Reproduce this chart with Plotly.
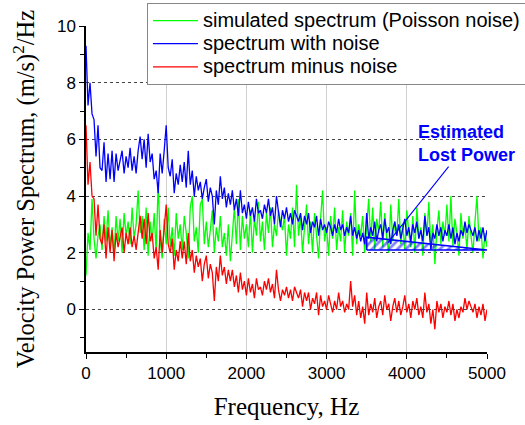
import numpy as np
import plotly.graph_objects as go

freq = list(range(0, 5001, 25))

with_noise = [
    9.3, 7.2, 8.0, 6.9, 6.7, 5.4, 6.5, 5.0, 4.9, 5.9,
    4.5, 5.5, 4.6, 5.6, 4.5, 5.5, 4.9, 5.3, 5.6, 4.8,
    5.4, 5.0, 5.7, 4.9, 5.4, 4.8, 5.6, 6.1, 5.3, 6.0,
    5.0, 6.2, 5.2, 5.5, 4.6, 4.9, 4.1, 5.5, 4.8, 5.6,
    6.5, 5.0, 4.7, 5.3, 4.1, 4.8, 4.4, 5.1, 4.5, 5.2,
    4.3, 5.6, 4.4, 4.9, 4.0, 4.7, 4.2, 4.5, 3.9, 4.3,
    4.6, 3.8, 4.3, 4.0, 3.0, 4.2, 3.7, 4.7, 3.9, 4.3,
    3.6, 4.1, 3.7, 4.2, 3.5, 3.9, 3.3, 4.2, 3.4, 3.7,
    3.2, 3.8, 3.3, 3.6, 3.1, 3.9, 3.4, 3.5, 3.2, 3.7,
    3.4, 3.9, 3.3, 3.6, 3.0, 4.0, 3.4, 2.9, 3.5, 3.2,
    3.6, 3.1, 3.4, 3.0, 3.5, 3.3, 3.1, 3.4, 2.8, 3.3,
    3.0, 3.4, 2.7, 3.1, 2.9, 3.3, 2.6, 3.2, 2.8, 3.0,
    2.7, 3.1, 2.9, 2.6, 3.0, 2.7, 3.2, 2.8, 3.0, 2.6,
    2.9, 2.7, 3.3, 2.6, 2.9, 2.5, 2.8, 2.4, 2.7, 2.3,
    3.4, 2.5, 2.9, 2.6, 3.1, 2.4, 2.8, 3.0, 2.5, 3.2,
    2.7, 2.9, 2.3, 2.8, 3.1, 2.6, 3.0, 2.5, 2.8, 3.2,
    2.6, 2.9, 2.4, 3.0, 2.7, 3.1, 2.5, 2.8, 2.4, 3.3,
    2.6, 2.9, 2.1, 2.7, 2.5, 3.0, 2.6, 2.9, 2.4, 2.8,
    2.6, 3.0, 2.5, 2.9, 2.3, 2.7, 2.4, 2.8, 2.6, 3.1,
    2.7, 3.0, 2.8, 2.6, 2.9, 2.4, 2.8, 2.5, 2.9, 2.4,
    2.8,
]

simulated = [
    1.2, 2.7, 2.1, 3.9, 2.5, 1.8, 2.6, 3.0, 2.1, 3.3,
    2.4, 3.5, 2.2, 2.9, 1.9, 3.3, 2.4, 3.2, 2.0, 3.4,
    2.6, 3.1, 2.3, 3.6, 2.5, 3.0, 4.2, 2.7, 3.3, 2.1,
    3.6, 1.9, 3.1, 2.4, 3.4, 2.0, 4.5, 2.4, 1.8, 3.2,
    2.3, 3.6, 2.2, 2.9, 1.9, 3.4, 2.5, 3.0, 2.1, 3.3,
    2.7, 1.8, 3.6, 4.0, 2.4, 2.9, 2.0, 3.7, 3.9, 2.3,
    3.1, 2.2, 2.8, 3.5, 2.0, 2.9, 2.4, 3.3, 2.2, 2.7,
    1.9, 3.0, 1.7, 2.8, 3.6, 2.3, 3.9, 2.1, 3.3, 2.5,
    3.0, 2.2, 3.5, 2.0, 3.2, 2.6, 3.8, 2.4, 3.1, 2.1,
    3.4, 2.7, 3.6, 2.2, 3.0, 2.6, 3.5, 3.1, 2.8, 3.3,
    1.9, 3.0, 2.5, 3.6, 2.2, 4.4, 2.6, 3.3, 2.0, 2.9,
    3.7, 2.3, 3.1, 2.0, 3.4, 2.6, 1.8, 3.2, 4.2, 2.4,
    2.9, 1.9, 3.3, 2.5, 3.6, 2.1, 2.9, 2.4, 3.5, 2.0,
    3.1, 2.6, 3.4, 1.9, 4.2, 2.3, 3.0, 2.6, 3.3, 2.0,
    2.8, 3.9, 2.4, 3.6, 2.1, 3.2, 2.7, 3.8, 2.2, 3.4,
    2.5, 2.0, 3.7, 2.4, 3.1, 2.6, 3.9, 2.3, 3.0, 2.1,
    3.5, 2.7, 2.2, 3.3, 2.0, 3.6, 2.5, 2.9, 1.9, 3.4,
    2.6, 3.8, 2.2, 3.0, 1.6, 2.8, 3.5, 2.3, 3.1, 2.6,
    3.7, 2.4, 4.0, 2.2, 3.2, 2.7, 1.9, 3.4, 2.5, 3.0,
    2.1, 3.3, 2.6, 2.0, 3.1, 4.0, 2.4, 2.9, 1.8, 2.7,
    2.2,
]

minus_noise = [
    6.5, 4.4, 5.2, 4.0, 3.9, 2.6, 3.7, 2.5, 2.3, 3.0,
    1.8, 2.9, 2.0, 2.8, 1.7, 2.7, 2.2, 2.6, 2.9, 2.0,
    2.7, 2.3, 2.9, 2.2, 2.6, 2.1, 2.8, 3.3, 2.5, 3.2,
    2.3, 3.4, 2.4, 2.7, 1.8, 2.2, 1.4, 2.8, 2.0, 2.9,
    3.7, 2.3, 2.0, 2.5, 1.4, 2.1, 1.7, 2.4, 1.8, 2.4,
    1.6, 2.7, 1.7, 2.1, 1.3, 1.9, 1.5, 1.8, 1.0, 1.6,
    1.9, 1.1, 1.6, 1.3, 0.3, 1.5, 1.0, 1.9, 1.2, 1.5,
    0.9, 1.4, 1.0, 1.4, 0.8, 1.2, 0.6, 1.3, 0.7, 1.0,
    0.5, 1.1, 0.6, 0.9, 0.4, 1.1, 0.7, 0.8, 0.5, 1.0,
    0.7, 1.1, 0.6, 0.9, 0.4, 1.4, 0.7, 0.3, 0.7, 0.5,
    0.8, 0.4, 0.7, 0.3, 0.8, 0.6, 0.4, 0.7, 0.1, 0.6,
    0.3, 0.6, 0.0, 0.4, 0.2, 0.6, -0.2, 0.5, 0.1, 0.3,
    0.0, 0.5, 0.2, -0.1, 0.3, 0.0, 0.6, 0.1, 0.3, -0.1,
    0.2, 0.0, 1.0, 0.1, 0.5, -0.2, 0.3, -0.3, 0.1, -0.5,
    0.6, -0.2, 0.2, -0.1, 0.4, -0.3, 0.1, 0.3, -0.2, 0.5,
    0.0, 0.2, -0.4, 0.1, 0.4, -0.1, 0.3, -0.2, 0.1, 0.5,
    -0.1, 0.2, -0.3, 0.3, 0.0, 0.4, -0.2, 0.1, -0.3, 0.6,
    -0.1, 0.2, -0.5, 0.0, -0.7, 0.3, -0.1, 0.2, -0.3, 0.1,
    -0.1, 0.3, -0.2, 0.2, -0.4, 0.0, -0.3, 0.1, -0.1, 0.4,
    0.0, 0.3, 0.1, -0.1, 0.2, -0.3, 0.1, -0.2, 0.2, -0.4,
    0.0,
]

series_names = ["simulated spectrum (Poisson noise)", "spectrum with noise", "spectrum minus noise"]

# Estimated lost power region (triangle)
lost_x = [3500, 3500, 5000, 3500]
lost_y = [2.1, 2.55, 2.1, 2.1]

assert len(freq) == len(with_noise) == len(simulated) == len(minus_noise)


def legend_label(s):
    return '<span style="font-size:20px">' + s + '</span>'


fig = go.Figure()
fig.add_trace(go.Scatter(x=freq, y=simulated, mode="lines",
                         line=dict(color="#00ff00", width=1.3),
                         name=legend_label(series_names[0])))
fig.add_trace(go.Scatter(x=freq, y=with_noise, mode="lines",
                         line=dict(color="#0000ff", width=1.3),
                         name=legend_label(series_names[1])))
fig.add_trace(go.Scatter(x=freq, y=minus_noise, mode="lines",
                         line=dict(color="#ff0000", width=1.3),
                         name=legend_label(series_names[2])))
fig.add_trace(go.Scatter(x=lost_x, y=lost_y, mode="lines", fill="toself",
                         fillcolor="rgba(0,0,0,0)",
                         fillpattern=dict(shape="/", fgcolor="#0000ff",
                                          bgcolor="rgba(255,255,255,0)",
                                          size=6, solidity=0.45),
                         line=dict(color="#0000ff", width=1.6),
                         showlegend=False, hoverinfo="skip"))

fig.add_annotation(x=3766, y=2.36, ax=4750, ay=5.85, axref="x", ayref="y",
                   xref="x", yref="y",
                   text="<b>Estimated<br>Lost Power</b>", align="left",
                   font=dict(family="Liberation Sans, Arial", size=18, color="#0000ff"),
                   showarrow=True, arrowhead=0, arrowwidth=1.1, arrowcolor="#0000ff")

fig.update_layout(
    width=525, height=425,
    margin=dict(l=86, r=38, t=26, b=73, autoexpand=False),
    paper_bgcolor="white", plot_bgcolor="white",
    font=dict(family="Liberation Sans, Arial", size=17, color="black"),
    legend=dict(x=0.152, y=1.0706, xanchor="left", yanchor="top",
                bordercolor="#888888", borderwidth=1, bgcolor="white",
                font=dict(size=15.5), tracegroupgap=0, itemwidth=45),
    xaxis=dict(range=[0, 5000], dtick=1000, tick0=0,
               showline=True, linecolor="black", linewidth=1.5,
               ticks="outside", ticklen=5, tickwidth=1.3, tickcolor="black",
               minor=dict(dtick=500, ticks="outside", ticklen=4, tickcolor="black", showgrid=False),
               showgrid=True, gridcolor="#d0d0d0", gridwidth=1, zeroline=False,
               title=dict(text="Frequency, Hz",
                          font=dict(family="Liberation Serif, Times New Roman", size=25))),
    yaxis=dict(range=[-1.5, 10], dtick=2, tick0=0,
               showline=True, linecolor="black", linewidth=1.5,
               ticks="outside", ticklen=5, tickwidth=1.3, tickcolor="black",
               minor=dict(dtick=1, ticks="outside", ticklen=4, tickcolor="black", showgrid=False),
               showgrid=True, gridcolor="#444444", griddash="dot", gridwidth=1, zeroline=False,
               title=dict(text="Velocity Power Spectrum, (m/s)<sup>2</sup>/Hz",
                          font=dict(family="Liberation Serif, Times New Roman", size=24.5))),
)

fig.write_html("out.html")
